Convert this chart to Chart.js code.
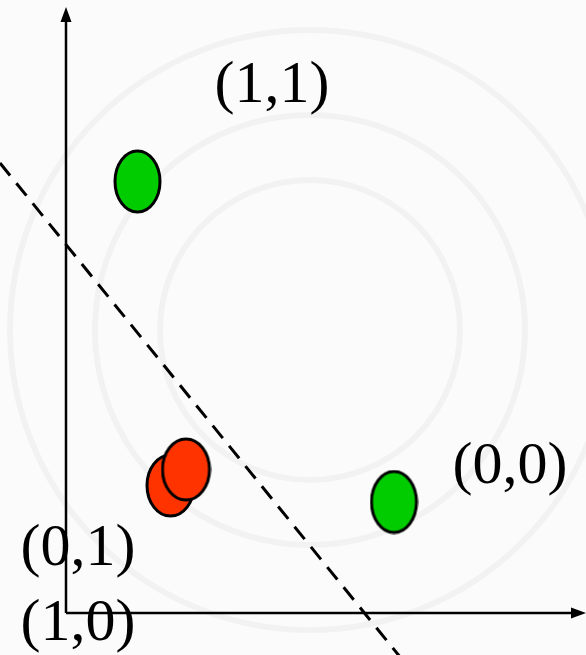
<!DOCTYPE html>
<html>
<head>
<meta charset="utf-8">
<script src="https://cdn.jsdelivr.net/npm/chart.js@4"></script>
<style>
  html, body { margin: 0; padding: 0; background: #fbfbfb; }
  #wrap { width: 586px; height: 655px; position: relative; }
</style>
</head>
<body>
<div id="wrap"><canvas id="xorChart"></canvas></div>
<script>
// XOR-style points and a separating line
const greenPoints = [
    { x: 0.715, y: 4.315 },
    { x: 3.28, y: 1.11 }
];
const redPoints = [
    { x: 1.045, y: 1.275 },
    { x: 1.20, y: 1.435 }
];
const boundaryLine = [
    { x: -0.66, y: 4.50 },
    { x: 3.60, y: -0.76 }
];
const cornerLabels = ['(1,1)', '(0,0)', '(0,1)', '(1,0)'];
const labelAnchors = [
    { x: 2.06, y: 5.11 },
    { x: 4.44, y: 1.30 },
    { x: 0.12, y: 0.48 },
    { x: 0.12, y: -0.27 }
];

// ellipse marker drawn on its own small canvas, used as a pointStyle
function makeEllipse(fill, rx, ry) {
    const c = document.createElement('canvas');
    c.width = Math.ceil(rx * 2 + 4);
    c.height = Math.ceil(ry * 2 + 4);
    const g = c.getContext('2d');
    g.beginPath();
    g.ellipse(c.width / 2, c.height / 2, rx, ry, 0, 0, Math.PI * 2);
    g.fillStyle = fill;
    g.fill();
    g.lineWidth = 3;
    g.strokeStyle = '#000';
    g.stroke();
    return c;
}

const greenDot = makeEllipse('#00cc00', 22.5, 30.5);
const redDot = makeEllipse('#ff3300', 23.5, 30.5);

// faint seal in the background
const sealPlugin = {
    id: 'seal',
    beforeDraw(chart) {
        const ctx = chart.ctx;
        ctx.save();
        ctx.strokeStyle = 'rgba(0,0,0,0.035)';
        ctx.lineWidth = 6;
        [150, 215, 300].forEach(r => {
            ctx.beginPath();
            ctx.arc(310, 330, r, 0, Math.PI * 2);
            ctx.stroke();
        });
        ctx.restore();
    }
};

// axes with arrow heads through the origin, plus the corner labels
const axesPlugin = {
    id: 'axesArrows',
    afterDatasetsDraw(chart) {
        const ctx = chart.ctx;
        const xs = chart.scales.x, ys = chart.scales.y;
        const ox = xs.getPixelForValue(0), oy = ys.getPixelForValue(0);
        const topY = ys.getPixelForValue(6.06);
        const rightX = xs.getPixelForValue(5.2);
        ctx.save();
        ctx.strokeStyle = '#000';
        ctx.fillStyle = '#000';
        ctx.lineWidth = 2.5;
        ctx.beginPath();
        ctx.moveTo(ox, oy);
        ctx.lineTo(ox, topY + 8);
        ctx.moveTo(ox, oy);
        ctx.lineTo(rightX - 8, oy);
        ctx.stroke();

        ctx.beginPath();
        ctx.moveTo(ox, topY);
        ctx.lineTo(ox - 5.5, topY + 15);
        ctx.lineTo(ox + 5.5, topY + 15);
        ctx.closePath();
        ctx.fill();
        ctx.beginPath();
        ctx.moveTo(rightX, oy);
        ctx.lineTo(rightX - 15, oy - 5.5);
        ctx.lineTo(rightX - 15, oy + 5.5);
        ctx.closePath();
        ctx.fill();

        ctx.font = '60px "Liberation Serif", "Times New Roman", serif';
        ctx.textAlign = 'center';
        ctx.textBaseline = 'alphabetic';
        cornerLabels.forEach((t, i) => {
            const p = labelAnchors[i];
            ctx.fillText(t, xs.getPixelForValue(p.x), ys.getPixelForValue(p.y));
        });
        ctx.restore();
    }
};

new Chart(document.getElementById('xorChart'), {
    type: 'scatter',
    data: {
        datasets: [
            {
                type: 'line',
                data: boundaryLine,
                borderColor: '#000',
                borderWidth: 3,
                borderDash: [16, 10],
                pointRadius: 0,
                fill: false,
                clip: false
            },
            {
                data: redPoints,
                pointStyle: redDot,
                pointRadius: 24,
                clip: false
            },
            {
                data: greenPoints,
                pointStyle: greenDot,
                pointRadius: 24,
                clip: false
            }
        ]
    },
    options: {
        responsive: true,
        maintainAspectRatio: false,
        animation: false,
        layout: { padding: 0, autoPadding: false },
        scales: {
            x: { type: 'linear', min: -0.66, max: 5.2, display: false },
            y: { type: 'linear', min: -0.42, max: 6.13, display: false }
        },
        plugins: {
            legend: { display: false },
            tooltip: { enabled: false }
        }
    },
    plugins: [sealPlugin, axesPlugin]
});
</script>
</body>
</html>
